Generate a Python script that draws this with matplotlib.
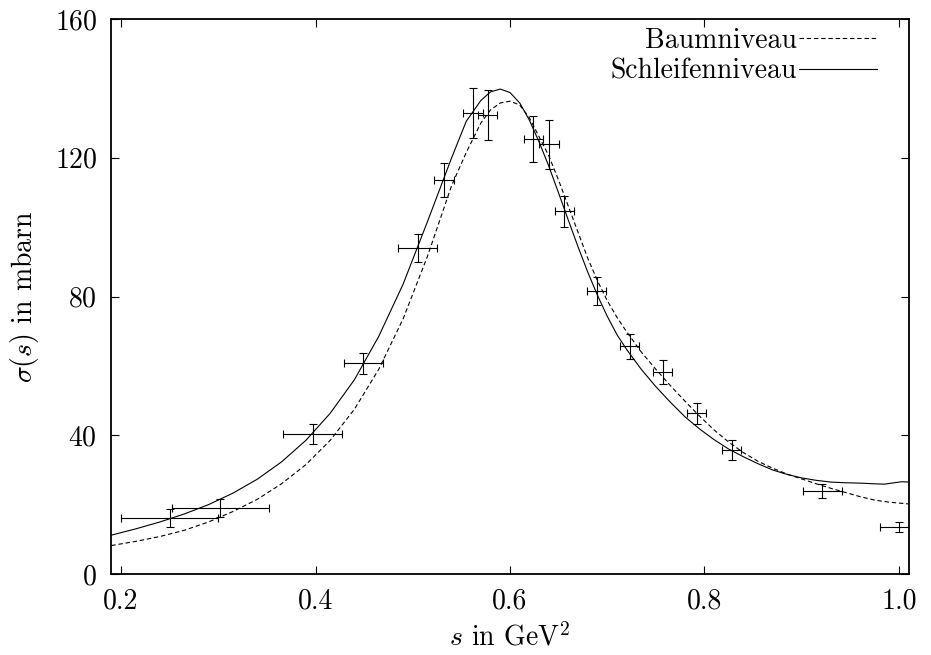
import matplotlib
matplotlib.use("Agg")
from matplotlib import pyplot as plt
import numpy as np

plt.rcParams['font.family'] = 'cmr10'
plt.rcParams['mathtext.fontset'] = 'cm'
plt.rcParams['axes.formatter.use_mathtext'] = True

# Messpunkte
s_data = [0.250, 0.302, 0.397, 0.449, 0.505, 0.532, 0.562, 0.577, 0.624, 0.640, 0.656, 0.689,
          0.723, 0.757, 0.792, 0.828, 0.921, 1.000]
sigma_data = [16.1, 19.1, 40.4, 60.7, 94.0, 113.6, 133.0, 132.3, 125.4, 123.9, 104.6, 81.6,
              65.7, 58.3, 46.3, 35.7, 23.9, 13.6]
s_err = [0.05, 0.05, 0.03, 0.02, 0.02, 0.01, 0.01, 0.01, 0.01, 0.01, 0.01, 0.01,
         0.01, 0.01, 0.01, 0.01, 0.02, 0.02]
sigma_err = [2.6, 2.6, 2.9, 3.1, 4.0, 4.8, 7.2, 7.2, 6.5, 7.1, 4.5, 4.1,
             3.6, 3.4, 3.1, 2.8, 2.0, 1.4]

# Baumniveau (gestrichelt)
s_tree = [0.19, 0.215, 0.24, 0.265, 0.29, 0.315, 0.34, 0.365, 0.39, 0.415, 0.44, 0.465, 0.49,
          0.515, 0.54, 0.555, 0.57, 0.58, 0.59, 0.60, 0.61, 0.62, 0.63, 0.64, 0.65, 0.66,
          0.67, 0.68, 0.69, 0.70, 0.71, 0.72, 0.735, 0.75, 0.765, 0.78, 0.795, 0.81, 0.825,
          0.84, 0.855, 0.87, 0.885, 0.90, 0.915, 0.93, 0.945, 0.96, 0.975, 0.99, 1.01]
sigma_tree = [8.2, 9.4, 10.8, 12.6, 15.0, 18.0, 21.5, 26.0, 31.5, 38.5, 47.5, 59.0, 73.5,
              91.5, 112.0, 121.5, 130.0, 133.8, 135.8, 136.3, 135.2, 131.5, 126.0, 120.5, 113.5, 106.0,
              98.5, 91.0, 84.5, 78.8, 74.0, 69.8, 64.0, 59.0, 54.3, 49.8, 45.5, 41.5, 38.0,
              35.0, 32.5, 30.5, 28.8, 27.4, 26.0, 24.7, 23.5, 22.3, 21.3, 20.7, 20.2]

# Schleifenniveau (durchgezogen)
s_loop = [0.19, 0.215, 0.24, 0.265, 0.29, 0.315, 0.34, 0.365, 0.39, 0.415, 0.44, 0.465, 0.49,
          0.515, 0.54, 0.555, 0.57, 0.58, 0.59, 0.60, 0.61, 0.62, 0.63, 0.64, 0.65, 0.66,
          0.67, 0.68, 0.69, 0.70, 0.71, 0.72, 0.735, 0.75, 0.765, 0.78, 0.795, 0.81, 0.825,
          0.84, 0.855, 0.87, 0.885, 0.90, 0.915, 0.93, 0.945, 0.96, 0.975, 0.985, 0.995, 1.003, 1.01]
sigma_loop = [11.2, 13.0, 15.0, 17.3, 20.0, 23.3, 27.3, 32.3, 38.5, 46.3, 56.0, 68.5, 83.5,
              101.5, 120.0, 130.5, 136.5, 139.0, 139.8, 138.8, 135.8, 130.8, 124.5, 117.5, 109.8, 102.0,
              94.3, 87.0, 80.3, 74.3, 69.0, 64.7, 59.0, 54.0, 49.5, 45.3, 41.8, 38.7, 36.0,
              33.8, 31.8, 30.0, 28.7, 27.7, 27.0, 26.5, 26.3, 26.2, 26.0, 25.9, 26.3, 26.6, 26.5]

fig = plt.figure(figsize=(9.31, 6.55), dpi=100)
ax = fig.add_axes([111/931, 1-574/655, 798/931, 555/655])

ax.plot(s_tree, sigma_tree, color='black', lw=0.8, ls=(0, (4, 2.5)), label='Baumniveau')
ax.plot(s_loop, sigma_loop, color='black', lw=0.8, ls='-', label='Schleifenniveau')
ax.errorbar(s_data, sigma_data, xerr=s_err, yerr=sigma_err, fmt='none', ecolor='black',
            elinewidth=0.8, capsize=3, capthick=0.8)

ax.set_xlim(0.1897, 1.0103)
ax.set_ylim(0, 160)
ax.set_xticks([0.2, 0.4, 0.6, 0.8, 1.0])
ax.set_xticklabels(['0.2', '0.4', '0.6', '0.8', '1.0'])
ax.set_yticks([0, 40, 80, 120, 160])
ax.tick_params(direction='in', top=True, right=True, length=6, width=0.8, labelsize=20, pad=10)
for sp in ax.spines.values():
    sp.set_linewidth(1.3)

ax.set_xlabel(r'$s$ in GeV$^2$', fontsize=20, labelpad=6)
ax.set_ylabel(r'$\sigma(s)$ in mbarn', fontsize=20, labelpad=10)

ax.legend(loc='upper right', bbox_to_anchor=(0.96, 0.984), frameon=False, markerfirst=False,
          fontsize=20, handlelength=2.8, handletextpad=0.1, borderpad=0, borderaxespad=0,
          labelspacing=0.15)

fig.savefig('out.png', dpi=100)
